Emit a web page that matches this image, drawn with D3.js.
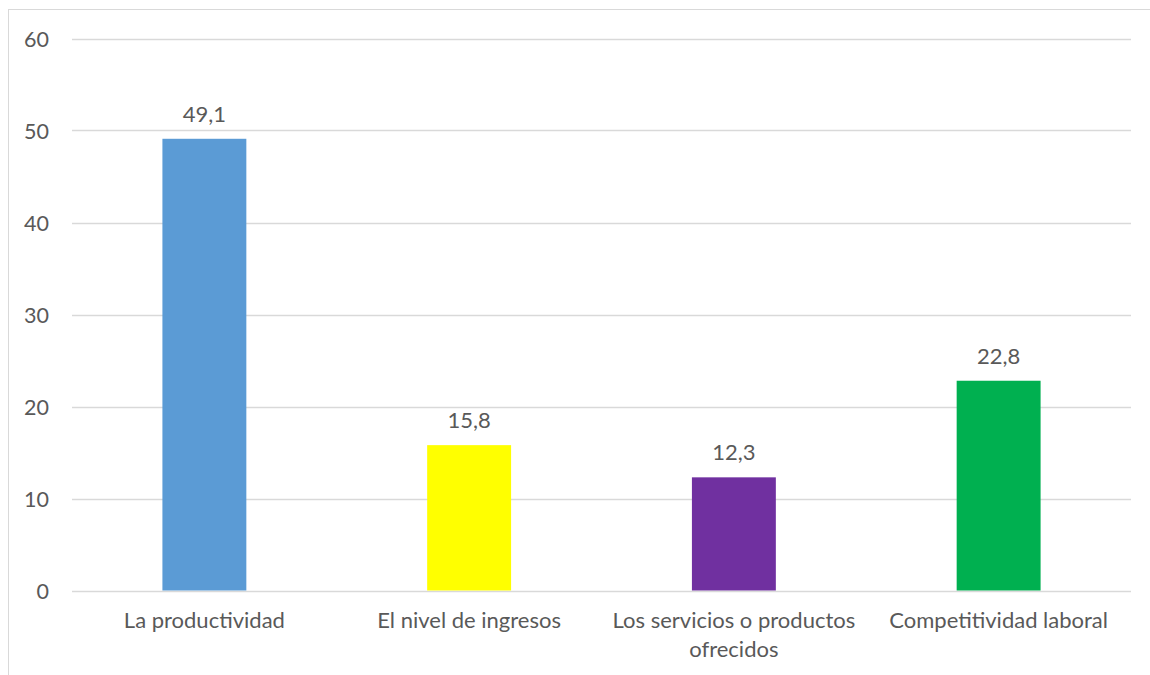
<!DOCTYPE html>
<html>
<head>
<meta charset="utf-8">
<script src="https://cdn.jsdelivr.net/npm/d3@7"></script>
<style>
  html, body { margin: 0; padding: 0; background: #fff; }
  svg { display: block; }
  text { font-family: Lato, "Open Sans", sans-serif; fill: #595959; }
</style>
</head>
<body>
<svg id="chart" width="1150" height="675"></svg>
<script>
// Category names (each inner array is one line of the axis label)
const categories = [
  ["La productividad"],
  ["El nivel de ingresos"],
  ["Los servicios o productos", "ofrecidos"],
  ["Competitividad laboral"]
];
const values = [49.1, 15.8, 12.3, 22.8];
const valueLabels = ["49,1", "15,8", "12,3", "22,8"];
const barColors = ["#5B9BD5", "#FFFF00", "#7030A0", "#00B050"];
const yTicks = [0, 10, 20, 30, 40, 50, 60];

const FONT_SIZE = 22;
const svg = d3.select("#chart");
const W = 1150, H = 675;
const plot = { left: 72, right: 1131, top: 38.5, bottom: 590.5 };

// Chart frame
svg.append("rect")
  .attr("x", 8.5).attr("y", 9.5)
  .attr("width", W + 20).attr("height", H + 20)
  .attr("fill", "none").attr("stroke", "#D9D9D9").attr("stroke-width", 1);

const x = d3.scaleBand()
  .domain(d3.range(categories.length))
  .range([plot.left, plot.right])
  .paddingInner(0.683).paddingOuter(0.3415);

const y = d3.scaleLinear().domain([0, 60]).range([plot.bottom, plot.top]);

// Gridlines
svg.append("g").selectAll("line")
  .data(yTicks)
  .join("line")
  .attr("x1", plot.left).attr("x2", plot.right)
  .attr("y1", d => Math.round(y(d)) + 0.5).attr("y2", d => Math.round(y(d)) + 0.5)
  .attr("stroke", "#D9D9D9").attr("stroke-width", 1.3);

// Y axis tick labels
const yAxis = d3.axisLeft(y).tickValues(yTicks).tickSize(0).tickPadding(0);
const gy = svg.append("g").attr("transform", `translate(49,0)`).call(yAxis);
gy.select(".domain").remove();
gy.selectAll("text")
  .attr("font-size", 21.5)
  .attr("font-family", "Lato, 'Open Sans', sans-serif")
  .attr("fill", "#595959")
  .attr("dy", "0.35em");

// Bars
svg.append("g").selectAll("rect")
  .data(values)
  .join("rect")
  .attr("x", (d, i) => x(i))
  .attr("width", x.bandwidth())
  .attr("y", d => y(d))
  .attr("height", d => y(0) - y(d))
  .attr("fill", (d, i) => barColors[i]);

// Value labels
svg.append("g").selectAll("text")
  .data(values)
  .join("text")
  .attr("x", (d, i) => x(i) + x.bandwidth() / 2)
  .attr("y", d => y(d) - 17)
  .attr("text-anchor", "middle")
  .attr("font-size", FONT_SIZE)
  .text((d, i) => valueLabels[i]);

// Category labels
const catG = svg.append("g").selectAll("text")
  .data(categories)
  .join("text")
  .attr("x", (d, i) => x(i) + x.bandwidth() / 2)
  .attr("y", 628)
  .attr("text-anchor", "middle")
  .attr("font-size", FONT_SIZE);
catG.selectAll("tspan")
  .data(d => d)
  .join("tspan")
  .attr("x", function () { return d3.select(this.parentNode).attr("x"); })
  .attr("dy", (d, j) => j === 0 ? 0 : 29)
  .text(d => d);
</script>
</body>
</html>
